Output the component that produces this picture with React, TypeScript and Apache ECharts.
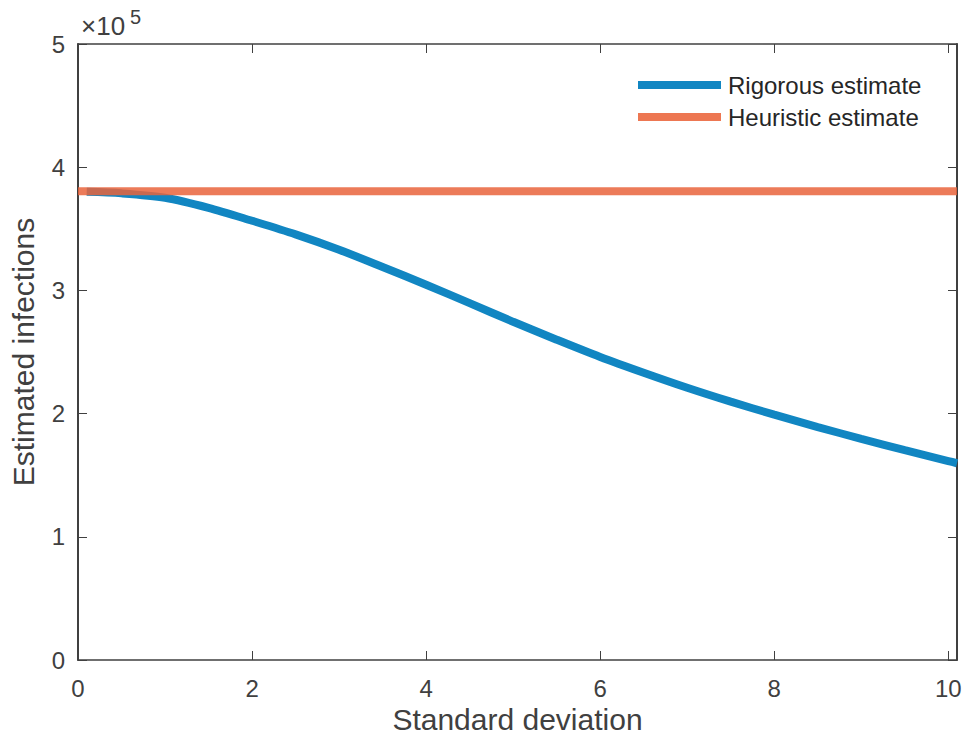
import React, { useEffect, useRef } from "react";
import * as echarts from "echarts";

const sdValues = [0.1, 0.5, 1.0, 1.5, 2.0, 2.5, 3.0, 3.5, 4.0, 4.5, 5.0, 5.5, 6.0, 6.5, 7.0, 7.5, 8.0, 8.5, 9.0, 9.5, 10.0, 10.1];
const rigorous = [380000, 378800, 375200, 367000, 356500, 345500, 333000, 319000, 304600, 289700, 274500, 260000, 246000, 233200, 221000, 209700, 199100, 189100, 179500, 170400, 161500, 159700];
const heuristicX = [0, 10.1];
const heuristic = [380400, 380400];
const seriesNames = ["Rigorous estimate", "Heuristic estimate"];
const xTitle = "Standard deviation";
const yTitle = "Estimated infections";

const FONT = "'Liberation Sans', Arial, Helvetica, sans-serif";
const AXIS = "#404040";

export default function App() {
  const ref = useRef<HTMLDivElement>(null);
  useEffect(() => {
    if (!ref.current) return;
    const chart = echarts.init(ref.current, undefined, { renderer: "svg" });
    const tickStyle = { show: true, inside: true, length: 9, lineStyle: { color: AXIS, width: 1 } };
    const lineStyle = { show: true, onZero: false, lineStyle: { color: AXIS, width: 1.5 } };
    chart.setOption({
      animation: false,
      backgroundColor: "#ffffff",
      textStyle: { fontFamily: FONT },
      grid: { left: 78, right: 8, top: 44, bottom: 86, containLabel: false },
      legend: {
        orient: "vertical",
        left: 638,
        top: 72,
        padding: 0,
        itemWidth: 83,
        itemHeight: 8,
        itemGap: 6,
        icon: "rect",
        textStyle: { fontSize: 24, color: "#262626", fontFamily: FONT, lineHeight: 26, padding: [0, 0, 0, 2] },
        data: seriesNames,
      },
      xAxis: [
        {
          type: "value",
          min: 0,
          max: 10.1,
          interval: 2,
          position: "bottom",
          name: xTitle,
          nameLocation: "middle",
          nameGap: 43,
          nameTextStyle: { fontSize: 30, color: AXIS, fontFamily: FONT },
          axisLine: lineStyle,
          axisTick: tickStyle,
          axisLabel: { fontSize: 24, color: AXIS, margin: 16, showMaxLabel: false, fontFamily: FONT },
          splitLine: { show: false },
        },
        {
          type: "value",
          min: 0,
          max: 10.1,
          interval: 2,
          position: "top",
          axisLine: lineStyle,
          axisTick: tickStyle,
          axisLabel: { show: false },
          splitLine: { show: false },
        },
      ],
      yAxis: [
        {
          type: "value",
          min: 0,
          max: 500000,
          interval: 100000,
          position: "left",
          name: yTitle,
          nameLocation: "middle",
          nameGap: 40,
          nameTextStyle: { fontSize: 30, color: AXIS, fontFamily: FONT },
          axisLine: { show: true, onZero: false, lineStyle: { color: AXIS, width: 2 } },
          axisTick: tickStyle,
          axisLabel: {
            fontSize: 24,
            color: AXIS,
            margin: 13,
            fontFamily: FONT,
            formatter: (v: number) => String(Math.round(v / 100000)),
          },
          splitLine: { show: false },
        },
        {
          type: "value",
          min: 0,
          max: 500000,
          interval: 100000,
          position: "right",
          axisLine: { show: true, onZero: false, lineStyle: { color: AXIS, width: 2 } },
          axisTick: tickStyle,
          axisLabel: { show: false },
          splitLine: { show: false },
        },
      ],
      graphic: [
        {
          type: "text",
          left: 81,
          top: 13,
          style: { text: "×10", fontSize: 26, fill: AXIS, fontFamily: FONT },
        },
        {
          type: "text",
          left: 130,
          top: 7,
          style: { text: "5", fontSize: 20, fill: AXIS, fontFamily: FONT },
        },
      ],
      series: [
        {
          name: seriesNames[0],
          type: "line",
          xAxisIndex: 0,
          yAxisIndex: 0,
          data: sdValues.map((x, i) => [x, rigorous[i]]),
          showSymbol: false,
          smooth: 0.3,
          lineStyle: { color: "#1186C2", width: 8 },
          itemStyle: { color: "#1186C2" },
          z: 2,
        },
        {
          name: seriesNames[1],
          type: "line",
          xAxisIndex: 0,
          yAxisIndex: 0,
          data: heuristicX.map((x, i) => [x, heuristic[i]]),
          showSymbol: false,
          lineStyle: { color: "#E9643C", width: 8, opacity: 0.85 },
          itemStyle: { color: "#ED7752" },
          z: 3,
        },
      ],
    });
    return () => chart.dispose();
  }, []);
  return <div ref={ref} style={{ position: "fixed", left: 0, top: 0, width: 965, height: 746 }} />;
}
